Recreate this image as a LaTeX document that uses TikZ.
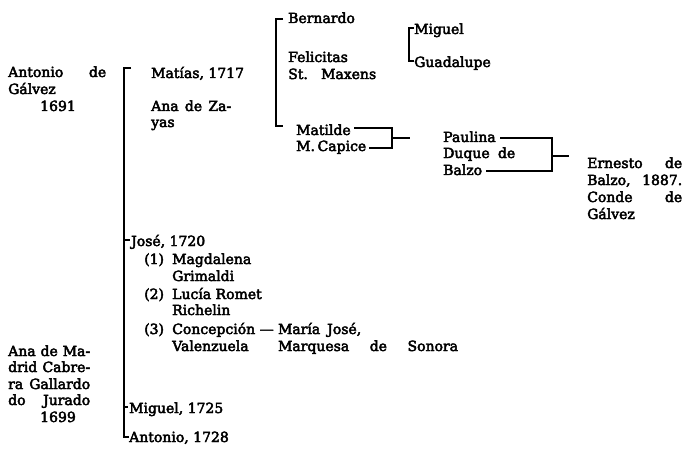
\documentclass[tikz,border=0pt]{standalone}
\usepackage{fontspec}
\setmainfont{DejaVu Serif}
\newcommand{\heavytext}{\special{pdf:literal direct 2 Tr 0.45 w}}
\begin{document}
\begin{tikzpicture}[x=1pt,y=-1pt,
  t/.style={anchor=base west, inner sep=0pt, font=\fontsize{14}{17}\selectfont\heavytext},
  ln/.style={line width=1.8pt, line cap=butt, line join=miter}]
\useasboundingbox (0,0) rectangle (692,449);
% left column
\node[t] (ant1) at (8,77) {\hbox to 98pt{Antonio\hfill de}};
\node[t] (ant2) at (8,94) {Gálvez};
\node[t] (ant3) at (40,111) {1691};
\node[t] (mad1) at (8,356) {\hbox to 82pt{Ana\hfill de\hfill Ma-}};
\node[t] (mad2) at (8,372) {\hbox to 82pt{drid\hfill Cabre-}};
\node[t] (mad3) at (8,389) {\hbox to 82pt{ra\hfill Gallardo}};
\node[t] (mad4) at (8,405) {\hbox to 82pt{do\hfill Jurado}};
\node[t] (mad5) at (40,422) {1699};
% children
\node[t] (mat) at (151,78) {Matías, 1717};
\node[t] (zav1) at (151,111) {\hbox to 80pt{Ana\hfill de\hfill Za-}};
\node[t] (zav2) at (151,127) {yas};
\node[t] (jos) at (131,246) {José, 1720};
\node[t] (n1) at (144,264) {(1)};
\node[t] (w1a) at (172,264) {Magdalena};
\node[t] (w1b) at (172,281) {Grimaldi};
\node[t] (n2) at (144,299) {(2)};
\node[t] (w2a) at (172,299) {Lucía Romet};
\node[t] (w2b) at (172,315) {Richelin};
\node[t] (n3) at (144,334) {(3)};
\node[t] (w3a) at (172,334) {Concepción —};
\node[t] (w3b) at (172,351) {Valenzuela};
\node[t, xshift=4pt] (mj1) at (w3a.base east) {María\hspace{0.5em}José,};
\node[t] (mj2) at (mj1.base west |- w3b.base) {\hbox to 180pt{Marquesa\hfill de\hfill Sonora}};
\node[t] (mig2) at (129,413) {Miguel, 1725};
\node[t] (ant4) at (129,442) {Antonio, 1728};
% grandchildren
\node[t] (ber) at (288,23) {Bernardo};
\node[t] (fel1) at (288,62) {Felicitas};
\node[t] (fel2) at (288,79) {\hbox to 88pt{St.\hfill Maxens}};
\node[t] (mig) at (414,34) {Miguel};
\node[t] (gua) at (414,67) {Guadalupe};
\node[t] (mti1) at (296,135) {Matilde};
\node[t] (mti2) at (296,151) {\hbox to 70pt{M.\hfill Capice}};
\node[t] (pau1) at (443,142) {Paulina};
\node[t] (pau2) at (443,158) {\hbox to 72pt{Duque\hfill de}};
\node[t] (pau3) at (443,175) {Balzo};
\node[t] (ern1) at (587,168) {\hbox to 95pt{Ernesto\hfill de}};
\node[t] (ern2) at (587,185) {\hbox to 95pt{Balzo,\hfill 1887.}};
\node[t] (ern3) at (587,202) {\hbox to 95pt{Conde\hfill de}};
\node[t] (ern4) at (587,219) {Gálvez};
% brackets
\draw[ln] (131,68) -- (124,68) -- (124,437) -- (129,437);
\draw[ln] (124,240) -- (130,240);
\draw[ln] (124,407) -- (128,407);
\draw[ln] (283,19) -- (276,19) -- (276,126) -- (283,126);
\draw[ln] (414,28) -- (409,28) -- (409,61) -- (414,61);
\draw[ln] (354,128) -- (392,128) -- (392,148) -- (369,148);
\draw[ln] (392,138) -- (410,138);
\draw[ln] (500,138) -- (552,138) -- (552,171) -- (486,171);
\draw[ln] (552,156) -- (569,156);
\end{tikzpicture}
\end{document}
